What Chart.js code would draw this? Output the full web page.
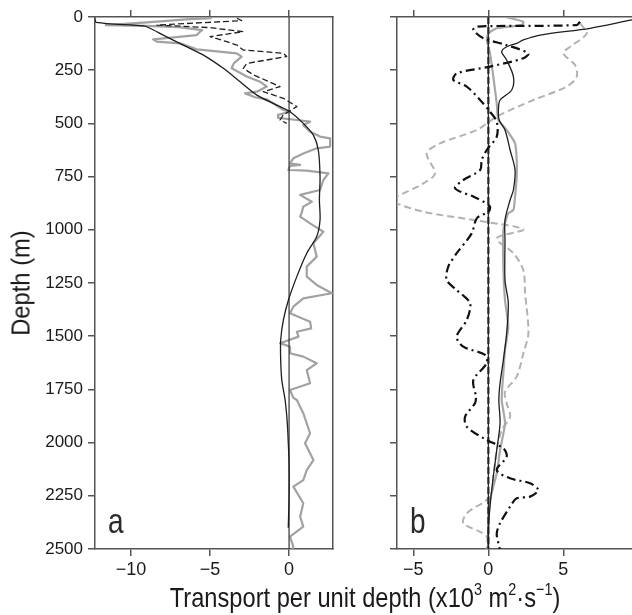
<!doctype html>
<html lang="en">
<head>
<meta charset="utf-8">
<title>Transport per unit depth</title>
<style>
  * { margin: 0; padding: 0; }
  body {
    width: 632px;
    height: 615px;
    overflow: hidden;
    position: relative;
    background: #fff;
    font-family: 'Liberation Sans', Arial, sans-serif;
    color: #1a1a1a;
  }
  #chartA { position: absolute; left: 0; top: 0; }
  #chartB { position: absolute; left: 345px; top: 0; }
  .xTitle {
    position: absolute;
    left: 0;
    width: 730px;
    top: 584px;
    text-align: center;
    font-size: 28px;
    line-height: 28px;
    white-space: nowrap;
    transform: scaleX(0.845);
    transform-origin: 365px 50%;
  }
  .xTitle sup { font-size: 17px; line-height: 0; vertical-align: 12px; }
  .yTitle {
    position: absolute;
    left: 21px;
    top: 283px;
    width: 200px;
    text-align: center;
    font-size: 25px;
    line-height: 25px;
    white-space: nowrap;
    transform: translate(-50%, -50%) rotate(-90deg) scaleX(0.95);
  }
</style>
</head>
<body>
<canvas id="chartA" width="345" height="615"></canvas>
<canvas id="chartB" width="300" height="615"></canvas>
<div class="yTitle">Depth (m)</div>
<div class="xTitle">Transport per unit depth (x10<sup>3</sup> m<sup>2</sup>·s<sup>−1</sup>)</div>

<script src="https://cdn.jsdelivr.net/npm/chart.js/dist/chart.umd.min.js"></script>
<script>
// tick labels
const depthTicks = [0, 250, 500, 750, 1000, 1250, 1500, 1750, 2000, 2250, 2500];
const transportTicksA = [-10, -5, 0];
const transportTicksB = [-5, 0, 5];

// zero reference
const zeroDepth = [0, 2500];
const zeroVal = [0, 0];

// panel a: black solid
const aBlackDepth = [4, 25, 42, 53, 85, 132, 179, 241, 304, 367, 414, 445, 500, 555, 625, 750, 860, 954, 1032, 1110, 1220, 1330, 1424, 1518, 1612, 1706, 1800, 1900, 2000, 2100, 2250, 2400];
const aBlackVal = [-12.3, -12.2, -9.2, -8.8, -7.96, -6.7, -5.42, -4.16, -3.1, -2.04, -0.78, 0.06, 0.9, 1.54, 1.85, 1.96, 1.92, 1.96, 1.75, 1.12, 0.49, -0.04, -0.36, -0.53, -0.53, -0.46, -0.25, -0.12, -0.05, 0.0, 0.0, -0.05];

// panel a: grey solid
const aGreyDepth = [5, 11, 25, 38, 42, 48, 62, 69, 85, 105, 116, 124, 152, 171, 186, 218, 241, 280, 304, 327, 351, 359, 377, 387, 410, 437, 445, 460, 474, 484, 492, 508, 539, 562, 570, 609, 617, 641, 664, 688, 695, 700, 719, 722, 735, 766, 813, 836, 868, 891, 920, 938, 970, 1009, 1063, 1126, 1173, 1220, 1259, 1298, 1322, 1361, 1392, 1432, 1463, 1479, 1502, 1533, 1549, 1580, 1596, 1627, 1659, 1721, 1753, 1790, 1800, 1862, 1956, 2003, 2082, 2129, 2176, 2207, 2285, 2348, 2395, 2442, 2489, 2500];
const aGreyVal = [-4.9, -6.5, -9.0, -11.6, -9.0, -7.0, -5.5, -5.63, -5.84, -8.6, -8.37, -6.9, -5.84, -3.31, -3.0, -3.5, -3.63, -2.68, -1.84, -1.41, -2.04, -2.78, -2.15, -1.41, -0.9, -0.36, 0.06, -0.68, -0.7, 0.49, 1.33, 0.9, 1.33, 1.96, 2.6, 2.6, 1.75, 0.9, 0.27, 0.06, 0.7, 0.06, -0.04, 1.12, 2.49, 2.17, 1.96, 0.7, 1.44, 0.9, 0.8, 0.7, 1.33, 2.17, 1.54, 1.75, 1.12, 1.12, 1.75, 2.7, 0.9, 0.27, 0.06, 1.33, 1.4, 0.49, 0.6, -0.57, 0.06, 0.06, 0.9, 1.75, 1.12, 1.33, 0.06, 0.27, 0.49, 0.9, 1.33, 1.01, 1.54, 1.12, 0.9, 0.27, 0.9, 0.7, 0.9, 0.06, 0.27, 0.2];

// panel a: black dashed (upper 500 m)
const aDashDepth = [6, 17, 38, 50, 69, 92, 116, 132, 155, 171, 186, 218, 241, 272, 327, 351, 382, 421, 460, 484, 500];
const aDashVal = [-3.3, -3.0, -8.37, -5.0, -2.9, -5.0, -3.94, -3.3, -2.9, -0.36, -0.15, -2.68, -2.9, -2.25, -0.57, -1.63, -0.36, 0.49, -0.36, -0.57, -0.15];

// panel b: black solid
const bBlackDepth = [0, 14, 53, 85, 108, 124, 140, 163, 202, 280, 343, 390, 437, 484, 531, 625, 719, 813, 860, 954, 1048, 1236, 1345, 1486, 1612, 1722, 1800, 1909, 2035, 2160, 2301, 2411, 2500];
const bBlackVal = [10.8, 9.58, 6.78, 3.45, 2.33, 1.89, 1.22, 0.89, 1.22, 1.67, 1.56, 0.78, 0.67, 0.72, 1.11, 1.45, 1.78, 1.67, 1.45, 1.11, 1.11, 1.11, 1.33, 1.22, 1.0, 0.78, 0.7, 0.78, 0.56, 0.33, 0.11, 0.0, 0.0];

// panel b: grey solid
const bGreyDepth = [1, 22, 38, 53, 77, 108, 171, 280, 406, 484, 531, 594, 672, 750, 844, 907, 922, 1001, 1173, 1330, 1455, 1565, 1674, 1800, 1909, 2035, 2144, 2270, 2380, 2500];
const bGreyVal = [1.22, 2.33, 2.22, 0.56, 0.0, -0.1, 0.11, 0.33, 0.56, 0.67, 1.22, 1.78, 1.89, 1.89, 1.78, 1.67, 1.33, 1.0, 1.0, 1.11, 1.33, 1.11, 1.0, 0.89, 1.11, 0.78, 0.56, 0.11, 0.0, 0.0];

// panel b: grey dashed
const bGreyDashDepth = [30, 77, 140, 171, 226, 280, 327, 390, 468, 531, 594, 641, 735, 782, 844, 866, 915, 954, 998, 1040, 1110, 1189, 1298, 1486, 1581, 1690, 1761, 1815, 1878, 1941, 2035, 2160, 2254, 2332, 2379, 2419, 2442, 2500];
const bGreyDashVal = [6.11, 6.56, 5.45, 5.0, 5.78, 5.89, 5.23, 3.0, 0.56, -0.77, -3.22, -4.11, -3.55, -4.33, -6.1, -6.4, -4.33, -1.0, 2.33, 0.56, 1.67, 2.33, 2.45, 2.67, 2.33, 1.89, 1.11, 1.22, 1.45, 0.89, 0.56, 0.33, 0.11, -1.44, -1.67, -0.56, -0.1, -0.1];

// panel b: black dash-dot
const bDashDotDepth = [22, 38, 45, 61, 100, 132, 171, 194, 233, 265, 296, 327, 390, 445, 492, 562, 625, 672, 719, 766, 805, 844, 876, 891, 915, 946, 1017, 1110, 1173, 1236, 1283, 1345, 1424, 1502, 1549, 1588, 1627, 1706, 1784, 1815, 1878, 1925, 1988, 2027, 2066, 2129, 2168, 2191, 2223, 2254, 2262, 2301, 2379, 2426, 2473, 2505];
const bDashDotVal = [6.11, 5.89, -0.77, -1.0, -0.33, 1.22, 2.67, 2.33, 0.11, -2.11, -2.33, -1.44, -0.55, 0.11, 0.56, 0.56, -0.11, -0.44, -0.55, -1.67, -2.22, -1.0, -0.11, 0.11, 0.0, -0.77, -1.11, -2.11, -2.67, -2.78, -2.11, -1.22, -1.44, -2.11, -1.67, -0.22, -0.11, -1.0, -0.83, -0.89, -1.55, -1.44, -0.11, 1.0, 1.22, 0.56, 1.45, 2.78, 3.33, 2.78, 1.89, 1.45, 0.78, 0.56, 0.67, 0.78];

const FONT = "'Liberation Sans', Arial, sans-serif";
const AXIS = '#555';

Chart.defaults.font.family = FONT;
Chart.defaults.color = '#1a1a1a';

function profile(vals, depths) {
  return depths.map((d, i) => ({ x: vals[i], y: d }));
}

function line(vals, depths, color, width, dash, tension) {
  return {
    data: profile(vals, depths),
    showLine: true,
    borderColor: color,
    borderWidth: width,
    borderDash: dash || [],
    borderJoinStyle: 'round',
    pointRadius: 0,
    tension: tension || 0,
    fill: false
  };
}

function fmtTransport(v) {
  return v < 0 ? '\u2212' + Math.abs(v) : String(v);
}

// panel letter in lower left corner, squeezed to a condensed look
function panelLetter(letter) {
  return {
    id: 'letter_' + letter,
    afterDatasetsDraw(chart) {
      const { ctx, chartArea } = chart;
      ctx.save();
      ctx.translate(chartArea.left + 13, chartArea.bottom - 16);
      ctx.scale(0.8, 1);
      ctx.font = '35px ' + FONT;
      ctx.fillStyle = '#2a2a2a';
      ctx.textBaseline = 'alphabetic';
      ctx.fillText(letter, 0, 0);
      ctx.restore();
    }
  };
}

function tickGrid(drawTicks) {
  return { drawOnChartArea: false, drawTicks: drawTicks, tickLength: 7, color: AXIS, lineWidth: 1.5 };
}

function buildScales(xMin, xMax, xTicks, yWidth, showDepthLabels) {
  const setX = s => { s.ticks = xTicks.map(v => ({ value: v })); };
  const setY = s => { s.ticks = depthTicks.map(v => ({ value: v })); };
  return {
    x: {
      type: 'linear', position: 'bottom', min: xMin, max: xMax,
      afterBuildTicks: setX,
      afterFit: s => { s.height = 66; },
      grid: tickGrid(true),
      border: { display: true, color: AXIS, width: 1.5 },
      ticks: { font: { size: 18 }, padding: 3, maxRotation: 0, callback: fmtTransport }
    },
    xTop: {
      type: 'linear', position: 'top', min: xMin, max: xMax,
      afterBuildTicks: setX,
      afterFit: s => { s.height = 17; },
      grid: tickGrid(true),
      border: { display: true, color: AXIS, width: 1.5 },
      ticks: { display: false }
    },
    y: {
      type: 'linear', position: 'left', reverse: true, min: 0, max: 2500,
      afterBuildTicks: setY,
      afterFit: s => { s.width = yWidth; },
      grid: tickGrid(true),
      border: { display: true, color: AXIS, width: 1.5 },
      ticks: { display: showDepthLabels, font: { size: 17 }, padding: 5, callback: v => String(v) }
    },
    yRight: {
      type: 'linear', position: 'right', reverse: true, min: 0, max: 2500,
      afterFit: s => { s.width = 0; },
      grid: tickGrid(false),
      border: { display: true, color: AXIS, width: 1.5 },
      ticks: { display: false }
    }
  };
}

const commonOptions = {
  responsive: false,
  animation: false,
  devicePixelRatio: 1,
  plugins: { legend: { display: false }, tooltip: { enabled: false } }
};

// panel a
new Chart(document.getElementById('chartA'), {
  type: 'scatter',
  data: {
    datasets: [
      line(aBlackVal, aBlackDepth, '#1e1e1e', 1.3, null, 0.3),
      line(zeroVal, zeroDepth, '#333', 1.2),
      line(aDashVal, aDashDepth, '#222', 1.3, [6, 3]),
      line(aGreyVal, aGreyDepth, '#a2a2a2', 2.2)
    ]
  },
  options: Object.assign({}, commonOptions, {
    layout: { padding: { left: 0, right: 12, top: 0, bottom: 0 } },
    scales: buildScales(-12.28, 2.78, transportTicksA, 95, true)
  }),
  plugins: [panelLetter('a')]
});

// panel b
new Chart(document.getElementById('chartB'), {
  type: 'scatter',
  data: {
    datasets: [
      line(bBlackVal, bBlackDepth, '#1e1e1e', 1.3, null, 0.3),
      line(bDashDotVal, bDashDotDepth, '#111', 2.2, [9, 4, 2, 4], 0.3),
      line(zeroVal, zeroDepth, '#222', 1.2),
      line(zeroVal, zeroDepth, '#666', 2.6, [7, 3]),
      line(bGreyVal, bGreyDepth, '#a8a8a8', 2.2, null, 0.2),
      line(bGreyDashVal, bGreyDashDepth, '#b2b2b2', 2, [7, 4], 0.3)
    ]
  },
  options: Object.assign({}, commonOptions, {
    layout: { padding: { left: 0, right: 5, top: 0, bottom: 0 } },
    scales: buildScales(-6.09, 10.11, transportTicksB, 52, false)
  }),
  plugins: [panelLetter('b')]
});
</script>
</body>
</html>
